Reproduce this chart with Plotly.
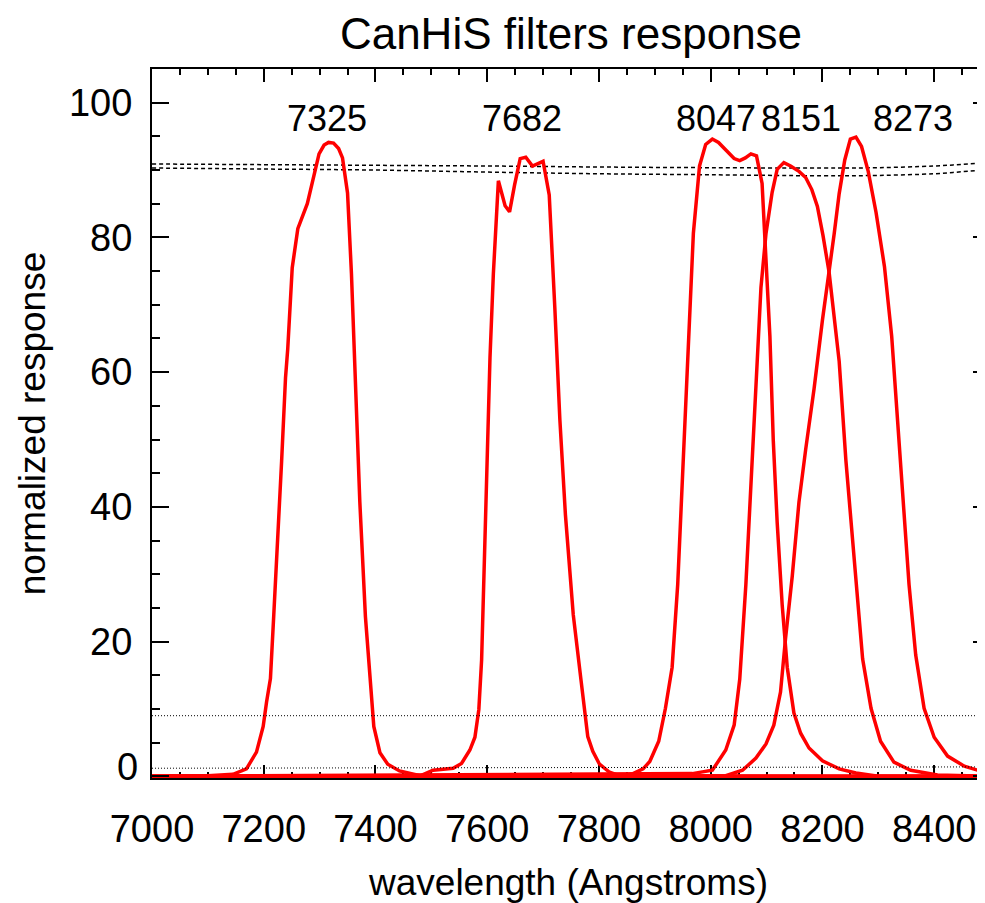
import plotly.graph_objects as go

# ---------------- data ----------------
filter_names = ["7325", "7682", "8047", "8151", "8273"]

wl_7325 = [7000, 7100, 7145, 7169, 7187, 7199, 7205, 7212, 7218, 7225, 7232, 7239, 7243, 7251,
           7261, 7278, 7299, 7308, 7316, 7325, 7334, 7341, 7350, 7357, 7363, 7372, 7382, 7390,
           7397, 7408, 7422, 7443, 7480, 8500]
resp_7325 = [0, 0.1, 0.3, 1.1, 3.6, 7.4, 11.0, 14.5, 24.0, 34.5, 46.8, 59.2, 63.5, 75.5,
             81.3, 85.0, 92.4, 93.7, 94.1, 94.0, 93.2, 91.8, 86.6, 74.6, 60.4, 40.7, 23.7, 14.5,
             7.4, 3.5, 1.8, 0.8, 0.1, 0]

wl_7682 = [7000, 7478, 7503, 7539, 7554, 7569, 7578, 7585, 7590, 7596, 7600, 7605, 7611, 7620,
           7632, 7640, 7649, 7659, 7669, 7681, 7700, 7711, 7721, 7730, 7740, 7754, 7768, 7780,
           7789, 7801, 7819, 7840, 8500]
resp_7682 = [0, 0, 0.9, 1.2, 1.9, 3.9, 5.8, 9.9, 17.3, 34.5, 46.8, 62.2, 74.6, 88.4,
             84.7, 83.8, 87.8, 91.7, 91.9, 90.6, 91.3, 86.3, 69.6, 53.0, 38.8, 24.0, 14.2, 5.9,
             3.7, 1.8, 0.6, 0, 0]

wl_8047 = [7000, 7838, 7861, 7879, 7891, 7907, 7919, 7931, 7941, 7951, 7960, 7969, 7980, 7991,
           8003, 8014, 8028, 8042, 8052, 8062, 8072, 8082, 8092, 8097, 8101, 8106, 8112, 8119,
           8128, 8137, 8149, 8161, 8176, 8200, 8230, 8260, 8300, 8500]
resp_8047 = [0, 0, 0.4, 1.1, 2.2, 5.2, 10.1, 16.2, 28.5, 46.9, 65.3, 80.6, 90.6, 93.8,
             94.6, 94.1, 92.9, 91.7, 91.4, 91.8, 92.4, 92.1, 88.0, 80.6, 74.5, 65.3, 49.9, 37.7,
             25.4, 16.2, 9.4, 6.4, 4.2, 2.3, 1.1, 0.5, 0, 0]

wl_8151 = [7000, 7967, 8003, 8027, 8042, 8052, 8063, 8072, 8081, 8090, 8099, 8110, 8119, 8131,
           8143, 8158, 8170, 8181, 8191, 8201, 8212, 8221, 8230, 8242, 8257, 8272, 8287, 8304,
           8328, 8358, 8406, 8500]
resp_8151 = [0, 0.4, 0.9, 3.9, 7.6, 14.4, 28.5, 43.8, 59.1, 72.6, 80.6, 86.7, 90.1, 91.1,
             90.6, 89.8, 88.9, 87.1, 84.6, 80.3, 74.8, 68.3, 61.6, 46.9, 31.5, 17.4, 10.1, 5.2,
             2.1, 0.9, 0.2, 0]

wl_8273 = [7000, 8027, 8057, 8081, 8099, 8113, 8125, 8134, 8146, 8158, 8170, 8185, 8200, 8212,
           8221, 8230, 8240, 8250, 8260, 8270, 8282, 8296, 8311, 8324, 8334, 8343, 8355, 8367,
           8382, 8400, 8424, 8454, 8490, 8500]
resp_8273 = [0, 0.1, 0.9, 2.7, 4.8, 7.6, 12.5, 20.5, 29.7, 40.7, 48.5, 57.5, 67.7, 74.8,
             80.5, 86.5, 91.5, 94.6, 94.9, 93.5, 89.8, 83.7, 75.7, 65.3, 53.0, 42.0, 28.5, 18.0,
             10.1, 5.8, 3.0, 1.5, 0.6, 0.5]

# reference curves (dashed, near 90 %)
wl_ref = [7000, 7200, 7400, 7600, 7800, 8000, 8200, 8300, 8400, 8450, 8500]
ref_upper = [90.9, 90.8, 90.7, 90.6, 90.45, 90.35, 90.3, 90.35, 90.6, 90.85, 91.15]
ref_lower = [90.3, 90.15, 90.0, 89.7, 89.45, 89.3, 89.15, 89.2, 89.45, 89.75, 90.05]

# dotted low-level curves
wl_low = [7000, 7600, 8500]
low_a = [9.0, 9.0, 9.0]
low_b = [1.2, 1.3, 1.4]

# annotation positions (wavelength) for the filter names
label_x = [7313, 7662, 8009, 8162, 8363]
label_y = 97.7

x_ticks = [7000, 7200, 7400, 7600, 7800, 8000, 8200, 8400]
y_ticks = [0, 20, 40, 60, 80, 100]
y_ticktext = ["", "20", "40", "60", "80", "100"]

# ---------------- figure ----------------
FONT = "Liberation Sans, Arial, Helvetica, sans-serif"
# the page body adds an 8px offset; the figure is sized so that it ends at the window edge
FIG_W, FIG_H = 977, 895
fig = go.Figure()

for yy in (low_a, low_b):
    fig.add_trace(go.Scatter(x=wl_low, y=yy, mode="lines", yaxis="y2",
                             line=dict(color="black", width=1, dash="1px,2px"),
                             hoverinfo="skip", showlegend=False))
for yy in (ref_upper, ref_lower):
    fig.add_trace(go.Scatter(x=wl_ref, y=yy, mode="lines", line_shape="spline",
                             line=dict(color="black", width=1.5, dash="4px,3px"),
                             hoverinfo="skip", showlegend=False))

curves = [(wl_7325, resp_7325), (wl_7682, resp_7682), (wl_8047, resp_8047),
          (wl_8151, resp_8151), (wl_8273, resp_8273)]
for name, (wl, rs) in zip(filter_names, curves):
    fig.add_trace(go.Scatter(x=wl, y=rs, mode="lines", name=name,
                             line=dict(color="#ff0000", width=3.5), showlegend=False))

for name, lx in zip(filter_names, label_x):
    fig.add_annotation(x=lx, y=label_y, text=name, showarrow=False,
                       xanchor="center", yanchor="middle",
                       font=dict(size=36, color="black", family=FONT))

# "0" label sits slightly above its tick in the original
fig.add_annotation(x=0, xref="paper", y=1.45, yref="y", text="0", showarrow=False,
                   xanchor="right", yanchor="middle", xshift=-12,
                   font=dict(size=38, color="black", family=FONT))

y_range = [-0.25, 105]
fig.update_layout(
    width=FIG_W, height=FIG_H,
    margin=dict(l=144, r=0, t=61, b=125, pad=0, autoexpand=False),
    paper_bgcolor="white", plot_bgcolor="white",
    font=dict(family=FONT, color="black", size=38),
    title=dict(text="CanHiS filters response", x=0.503, xref="paper", xanchor="center",
               y=1 - 26 / FIG_H, yref="container", yanchor="middle",
               font=dict(size=44, family=FONT, color="black")),
    xaxis=dict(range=[7000, 8491], tickvals=x_ticks, ticks="inside", ticklen=13,
               tickwidth=2, tickcolor="black", showline=True, linecolor="black",
               linewidth=2, mirror="ticks", showgrid=False, zeroline=False,
               tickfont=dict(size=38), ticklabelstandoff=16, automargin=False,
               minor=dict(dtick=50, ticks="inside", ticklen=6, tickwidth=2,
                          tickcolor="black", showgrid=False),
               title=dict(text="wavelength (Angstroms)", font=dict(size=37), standoff=28),
               layer="below traces"),
    yaxis=dict(range=y_range, tickvals=y_ticks, ticktext=y_ticktext, ticks="inside",
               ticklen=17, tickwidth=2, tickcolor="black", showline=True,
               linecolor="black", linewidth=2, showgrid=False, zeroline=False,
               tickfont=dict(size=38), ticklabelstandoff=10, automargin=False,
               minor=dict(dtick=5, ticks="inside", ticklen=8, tickwidth=2,
                          tickcolor="black", showgrid=False),
               title=dict(text="normalized response", font=dict(size=37), standoff=12)),
    yaxis2=dict(range=y_range, overlaying="y", side="right", anchor="x",
                tickvals=y_ticks, ticks="inside", ticklen=12, tickwidth=2,
                tickcolor="black", showline=False, showgrid=False, zeroline=False,
                showticklabels=False, automargin=False,
                minor=dict(dtick=5, ticks="inside", ticklen=4, tickwidth=2,
                           tickcolor="black", showgrid=False)),
)

fig.write_html("out.html")
